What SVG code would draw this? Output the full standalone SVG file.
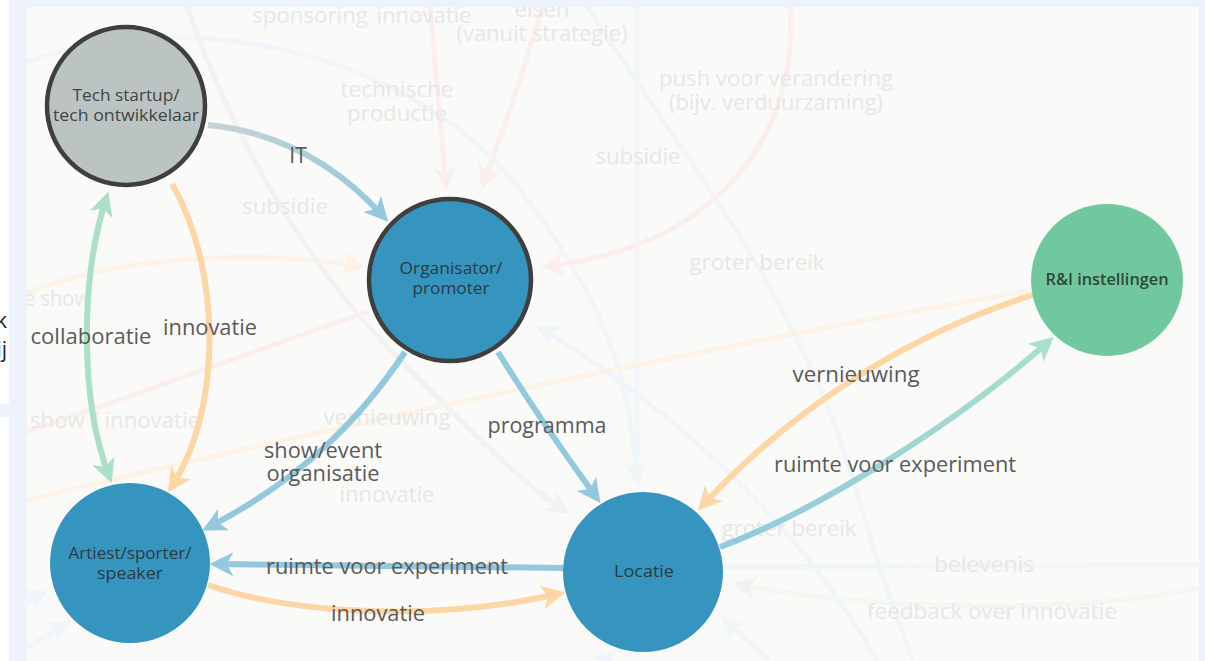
<svg xmlns="http://www.w3.org/2000/svg" width="1205" height="661" viewBox="0 0 1205 661">
  <defs>
    <style>
      .lbl { font-family: "Open Sans", "Liberation Sans", sans-serif; font-size: 21px; fill: #5a5a5a; text-anchor: middle; }
      .ghost { font-family: "Open Sans", "Liberation Sans", sans-serif; font-size: 21px; fill: #e7e7e5; text-anchor: middle; }
      .ntxt { font-family: "Open Sans", "Liberation Sans", sans-serif; font-size: 16.5px; text-anchor: middle; }
      .edge { fill: none; stroke-width: 6; stroke-linecap: butt; }
      .faint { fill: none; stroke-width: 5; }
    </style>
    <clipPath id="panel-clip">
      <rect x="27" y="7" width="1172" height="654"/>
    </clipPath>
    <marker id="ah-blue" markerUnits="userSpaceOnUse" markerWidth="24" markerHeight="24" viewBox="0 0 22 22" refX="15" refY="11" orient="auto">
      <path d="M0,0 L22,11 L0,22 L6,11 z" fill="#93c8de"/>
    </marker>
    <marker id="ah-orange" markerUnits="userSpaceOnUse" markerWidth="24" markerHeight="24" viewBox="0 0 22 22" refX="15" refY="11" orient="auto">
      <path d="M0,0 L22,11 L0,22 L6,11 z" fill="#fcd6a5"/>
    </marker>
    <marker id="ah-green" markerUnits="userSpaceOnUse" markerWidth="24" markerHeight="24" viewBox="0 0 22 22" refX="15" refY="11" orient="auto-start-reverse">
      <path d="M0,0 L22,11 L0,22 L6,11 z" fill="#abe0c6"/>
    </marker>
    <marker id="ah-teal" markerUnits="userSpaceOnUse" markerWidth="24" markerHeight="24" viewBox="0 0 22 22" refX="15" refY="11" orient="auto">
      <path d="M0,0 L22,11 L0,22 L6,11 z" fill="#a9e0cb"/>
    </marker>
    <marker id="fa-blue" markerUnits="userSpaceOnUse" markerWidth="24" markerHeight="24" viewBox="0 0 22 22" refX="15" refY="11" orient="auto">
      <path d="M0,0 L22,11 L0,22 L6,11 z" fill="#eff5f8"/>
    </marker>
    <marker id="fa-pink" markerUnits="userSpaceOnUse" markerWidth="24" markerHeight="24" viewBox="0 0 22 22" refX="15" refY="11" orient="auto">
      <path d="M0,0 L22,11 L0,22 L6,11 z" fill="#fbeeee"/>
    </marker>
    <marker id="fa-orange" markerUnits="userSpaceOnUse" markerWidth="24" markerHeight="24" viewBox="0 0 22 22" refX="15" refY="11" orient="auto">
      <path d="M0,0 L22,11 L0,22 L6,11 z" fill="#fcf3e8"/>
    </marker>
    <marker id="fa-gray" markerUnits="userSpaceOnUse" markerWidth="24" markerHeight="24" viewBox="0 0 22 22" refX="15" refY="11" orient="auto">
      <path d="M0,0 L22,11 L0,22 L6,11 z" fill="#f2f2f0"/>
    </marker>
    <linearGradient id="g-it" gradientUnits="userSpaceOnUse" x1="208" y1="125" x2="388" y2="221">
      <stop offset="0" stop-color="#c9d3d5"/>
      <stop offset="1" stop-color="#93c8de"/>
    </linearGradient>
    <linearGradient id="g-rx" gradientUnits="userSpaceOnUse" x1="720" y1="547" x2="1053" y2="337">
      <stop offset="0" stop-color="#93c8de"/>
      <stop offset="1" stop-color="#a9e0cb"/>
    </linearGradient>
  </defs>

  <!-- page frame -->
  <rect x="0" y="0" width="1205" height="661" fill="#eef2fb"/>
  <rect x="0" y="0" width="9" height="404" fill="#ffffff"/>
  <rect x="0" y="417" width="9" height="244" fill="#ffffff"/>
  <g font-family="Open Sans, Liberation Sans, sans-serif" font-size="21" fill="#222222" text-anchor="end">
    <text x="7" y="328">k</text>
    <text x="7" y="357">ij</text>
  </g>
  <rect x="27" y="7" width="1172" height="654" fill="#fafaf8"/>

  <!-- background layer: dimmed relations -->
  <g id="background" clip-path="url(#panel-clip)">
    <path class="faint" stroke="#eff5f8" d="M27,62 C200,0 420,60 520,190 S630,400 637,478" marker-end="url(#fa-blue)"/>
    <path class="faint" stroke="#f1f6f8" d="M637,7 L637,470"/>
    <path class="faint" stroke="#eff5f8" d="M587,7 C680,150 800,300 850,470 S900,620 913,661"/>
    <path class="faint" stroke="#eff5f8" d="M877,661 C820,560 720,440 542,329" marker-end="url(#fa-blue)"/>
    <path class="faint" stroke="#eff5f8" d="M723,567 L1199,565"/>
    <path class="faint" stroke="#eff5f8" d="M27,602 L42,593" marker-end="url(#fa-blue)"/>
    <path class="faint" stroke="#eff5f8" d="M27,648 L64,625" marker-end="url(#fa-blue)"/>
    <path class="faint" stroke="#eff5f8" d="M770,661 L726,621" marker-end="url(#fa-blue)"/>
    <path class="faint" stroke="#eff5f8" d="M612,661 L599,658" marker-end="url(#fa-blue)"/>
    <path class="faint" stroke="#fbeeee" d="M430,7 L446,183" marker-end="url(#fa-pink)"/>
    <path class="faint" stroke="#fbeeee" d="M543,7 C520,80 500,140 484,182" marker-end="url(#fa-pink)"/>
    <path class="faint" stroke="#fbeeee" d="M790,7 C800,150 700,250 548,266" marker-end="url(#fa-pink)"/>
    <path class="faint" stroke="#fbeeee" d="M27,432 C150,390 270,345 368,312"/>
    <path class="faint" stroke="#fcf3e8" d="M27,293 C120,255 260,250 358,266" marker-end="url(#fa-orange)"/>
    <path class="faint" stroke="#fcf3e8" d="M1033,290 C800,330 400,410 27,500"/>
    <path class="faint" stroke="#f2f2f0" d="M187,7 C230,130 300,260 400,360 S520,480 563,510" marker-end="url(#fa-gray)"/>
    <path class="faint" stroke="#f2f7f2" d="M1199,588 C1100,610 900,615 740,585" marker-end="url(#fa-gray)"/>
    <g lengthAdjust="spacingAndGlyphs">
      <text class="ghost" x="310" y="23" textLength="116" lengthAdjust="spacingAndGlyphs">sponsoring</text>
      <text class="ghost" x="424" y="23" textLength="95" lengthAdjust="spacingAndGlyphs">innovatie</text>
      <text class="ghost" x="542" y="17" textLength="55" lengthAdjust="spacingAndGlyphs">eisen</text>
      <text class="ghost" x="542" y="41" textLength="171" lengthAdjust="spacingAndGlyphs">(vanuit strategie)</text>
      <text class="ghost" x="397" y="97" textLength="113" lengthAdjust="spacingAndGlyphs">technische</text>
      <text class="ghost" x="397" y="121" textLength="100" lengthAdjust="spacingAndGlyphs">productie</text>
      <text class="ghost" x="776" y="86" textLength="234" lengthAdjust="spacingAndGlyphs">push voor verandering</text>
      <text class="ghost" x="776" y="110" textLength="214" lengthAdjust="spacingAndGlyphs">(bijv. verduurzaming)</text>
      <text class="ghost" x="638" y="164" textLength="85" lengthAdjust="spacingAndGlyphs">subsidie</text>
      <text class="ghost" x="285" y="214" textLength="86" lengthAdjust="spacingAndGlyphs">subsidie</text>
      <text class="ghost" x="757" y="270" textLength="135" lengthAdjust="spacingAndGlyphs">groter bereik</text>
      <text class="ghost" x="57" y="306" textLength="66" lengthAdjust="spacingAndGlyphs">e show</text>
      <text class="ghost" x="115" y="428" textLength="170" lengthAdjust="spacingAndGlyphs">show / innovatie</text>
      <text class="ghost" x="387" y="425" textLength="127" lengthAdjust="spacingAndGlyphs">vernieuwing</text>
      <text class="ghost" x="387" y="502" textLength="95" lengthAdjust="spacingAndGlyphs">innovatie</text>
      <text class="ghost" x="789" y="536" textLength="135" lengthAdjust="spacingAndGlyphs">groter bereik</text>
      <text class="ghost" x="984" y="572" textLength="100" lengthAdjust="spacingAndGlyphs">belevenis</text>
      <text class="ghost" x="992" y="619" textLength="250" lengthAdjust="spacingAndGlyphs">feedback over innovatie</text>
    </g>
  </g>

  <!-- connectors -->
  <g id="connectors">
    <path class="edge" stroke="url(#g-it)" d="M208,125 Q310,135 383,216" marker-end="url(#ah-blue)"/>
    <path class="edge" stroke="#fcd6a5" d="M172,184 C222,270 222,410 172,486" marker-end="url(#ah-orange)"/>
    <path class="edge" stroke="#abe0c6" d="M106,199 C80,280 80,400 109,476" marker-start="url(#ah-green)" marker-end="url(#ah-green)"/>
    <path class="edge" stroke="#93c8de" d="M405,352 C360,420 300,480 209,527" marker-end="url(#ah-blue)"/>
    <path class="edge" stroke="#93c8de" d="M498,352 Q540,420 596,497" marker-end="url(#ah-blue)"/>
    <path class="edge" stroke="#93c8de" d="M563,568 L217,564" marker-end="url(#ah-blue)"/>
    <path class="edge" stroke="#fcd6a5" d="M208,585 C280,610 420,625 558,594" marker-end="url(#ah-orange)"/>
    <path class="edge" stroke="#fcd6a5" d="M1033,295 C920,330 800,400 703,505" marker-end="url(#ah-orange)"/>
    <path class="edge" stroke="url(#g-rx)" d="M720,547 C820,510 960,420 1048,342" marker-end="url(#ah-teal)"/>

    <text class="lbl" x="298" y="163">IT</text>
    <text class="lbl" x="210" y="335" textLength="94" lengthAdjust="spacingAndGlyphs">innovatie</text>
    <text class="lbl" x="91" y="344" textLength="121" lengthAdjust="spacingAndGlyphs">collaboratie</text>
    <text class="lbl" x="323" y="458" textLength="118" lengthAdjust="spacingAndGlyphs">show/event</text>
    <text class="lbl" x="323" y="481" textLength="113" lengthAdjust="spacingAndGlyphs">organisatie</text>
    <text class="lbl" x="547" y="433" textLength="119" lengthAdjust="spacingAndGlyphs">programma</text>
    <text class="lbl" x="387" y="574" textLength="242" lengthAdjust="spacingAndGlyphs">ruimte voor experiment</text>
    <text class="lbl" x="378" y="621" textLength="94" lengthAdjust="spacingAndGlyphs">innovatie</text>
    <text class="lbl" x="856" y="382" textLength="127" lengthAdjust="spacingAndGlyphs">vernieuwing</text>
    <text class="lbl" x="895" y="472" textLength="242" lengthAdjust="spacingAndGlyphs">ruimte voor experiment</text>
  </g>

  <!-- nodes -->
  <g id="node-tech">
    <circle cx="126" cy="106" r="79" fill="#bcc4c3" stroke="#3f3f3f" stroke-width="4.5"/>
    <text class="ntxt" x="126" y="101" fill="#404444" textLength="107" lengthAdjust="spacingAndGlyphs">Tech startup/</text>
    <text class="ntxt" x="126" y="121" fill="#404444" textLength="146" lengthAdjust="spacingAndGlyphs">tech ontwikkelaar</text>
  </g>
  <g id="node-organisator">
    <circle cx="450" cy="280" r="81" fill="#3595bf" stroke="#3f3f3f" stroke-width="4.5"/>
    <text class="ntxt" x="451" y="274" fill="#2c3a44" textLength="103" lengthAdjust="spacingAndGlyphs">Organisator/</text>
    <text class="ntxt" x="451" y="294" fill="#2c3a44" textLength="77" lengthAdjust="spacingAndGlyphs">promoter</text>
  </g>
  <g id="node-ri">
    <circle cx="1107" cy="280" r="76" fill="#72c89e"/>
    <text class="ntxt" x="1107" y="285" fill="#2f463c" font-weight="600" textLength="123" lengthAdjust="spacingAndGlyphs">R&amp;I instellingen</text>
  </g>
  <g id="node-artiest">
    <circle cx="130" cy="563" r="80" fill="#3595bf"/>
    <text class="ntxt" x="130" y="559" fill="#2c3a44" textLength="123" lengthAdjust="spacingAndGlyphs">Artiest/sporter/</text>
    <text class="ntxt" x="130" y="579" fill="#2c3a44" textLength="66" lengthAdjust="spacingAndGlyphs">speaker</text>
  </g>
  <g id="node-locatie">
    <circle cx="643" cy="572" r="80" fill="#3595bf"/>
    <text class="ntxt" x="644" y="577" fill="#2c3a44" textLength="60" lengthAdjust="spacingAndGlyphs">Locatie</text>
  </g>
</svg>
